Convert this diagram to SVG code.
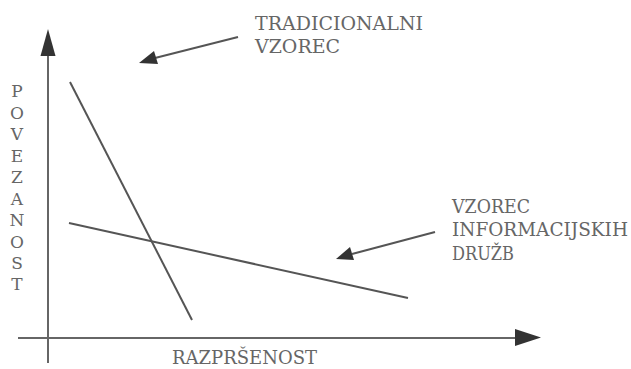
<svg xmlns="http://www.w3.org/2000/svg" width="631" height="369" viewBox="0 0 631 369">
<defs>
<style>
text{font-family:'DejaVu Serif','Liberation Serif',serif;fill:#666}
.t{font-size:18px}
.ly{font-size:17px;text-anchor:middle}
.ax{stroke:#666;stroke-width:2;fill:none}
.ln{stroke:#555;stroke-width:2;fill:none}
.head{fill:#333}
</style>
</defs>
<rect width="631" height="369" fill="#fff"/>
<g id="axes">
<line class="ax" x1="48" y1="50" x2="48" y2="363"/>
<polygon class="head" points="48,29 40.5,56 55.5,56"/>
<line class="ax" x1="18" y1="338" x2="520" y2="338"/>
<polygon class="head" points="541,337.5 515,329 515,346"/>
</g>
<g id="y-label">
<text class="ly" x="17" y="97">P</text>
<text class="ly" x="17" y="118.5">O</text>
<text class="ly" x="17" y="140">V</text>
<text class="ly" x="17" y="161.5">E</text>
<text class="ly" x="17" y="183">Z</text>
<text class="ly" x="17" y="204.5">A</text>
<text class="ly" x="17" y="226">N</text>
<text class="ly" x="17" y="247.5">O</text>
<text class="ly" x="17" y="269">S</text>
<text class="ly" x="17" y="290">T</text>
</g>
<g id="x-label">
<text class="t" x="172" y="364" textLength="145" lengthAdjust="spacingAndGlyphs">RAZPRŠENOST</text>
</g>
<g id="connectors">
<line id="traditional-line" class="ln" x1="70" y1="82" x2="192" y2="320"/>
<line id="info-line" class="ln" x1="69" y1="223" x2="408" y2="298"/>
<line class="ln" x1="238" y1="37" x2="155" y2="58"/>
<polygon class="head" points="139,63 154,51 158,64"/>
<line class="ln" x1="435" y1="232" x2="352" y2="254"/>
<polygon class="head" points="336,259 350,247 354,260"/>
</g>
<g id="label-traditional">
<text class="t" x="255" y="30" textLength="168" lengthAdjust="spacingAndGlyphs">TRADICIONALNI</text>
<text class="t" x="255" y="53" textLength="85" lengthAdjust="spacingAndGlyphs">VZOREC</text>
</g>
<g id="label-info">
<text class="t" x="452" y="213" textLength="78" lengthAdjust="spacingAndGlyphs">VZOREC</text>
<text class="t" x="452" y="236" textLength="176" lengthAdjust="spacingAndGlyphs">INFORMACIJSKIH</text>
<text class="t" x="452" y="260" textLength="62" lengthAdjust="spacingAndGlyphs">DRUŽB</text>
</g>
</svg>
